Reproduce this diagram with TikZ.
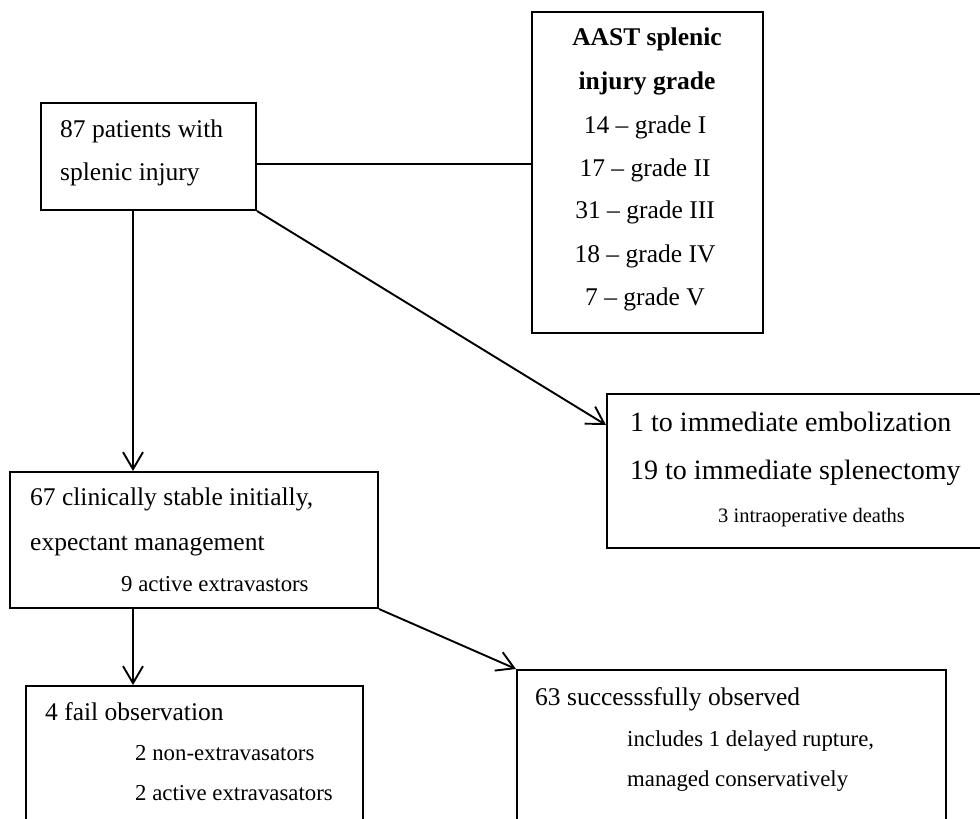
\documentclass[tikz,border=0pt]{standalone}
\usepackage{fontspec}
\setmainfont{Liberation Serif}
\usetikzlibrary{arrows.meta}
\begin{document}
\begin{tikzpicture}[x=1pt,y=-1pt,
  box/.style={draw, line width=2pt, rectangle, inner sep=0pt, minimum width=#1},
  conn/.style={line width=1.9pt},
  arr/.style={line width=1.9pt, -{Straight Barb[length=17pt,width=20pt,line width=1.9pt]}},
  txt/.style={inner sep=0pt, anchor=base west, font=\fontsize{25.5}{30}\selectfont},
  ctxt/.style={inner sep=0pt, anchor=base, font=\fontsize{25.5}{30}\selectfont},
  sub/.style={inner sep=0pt, anchor=base west, font=\fontsize{22.8}{27}\selectfont},
  lg/.style={inner sep=0pt, anchor=base west, font=\fontsize{28}{33}\selectfont},
  sm/.style={inner sep=0pt, anchor=base west, font=\fontsize{20.5}{24}\selectfont}]
\clip (0,0) rectangle (980,819);
\fill[white] (0,0) rectangle (980,819);
% boxes
\node[box=215pt, minimum height=107pt] (A) at (148.5,156.5) {};
\node[box=231pt, minimum height=321pt] (B) at (647.5,172.5) {};
\node[box=388pt, minimum height=154pt] (C) at (801,471) {};
\node[box=368pt, minimum height=136pt] (D) at (194,540) {};
\node[box=337pt, minimum height=154pt] (E) at (194.5,763) {};
\node[box=429pt, minimum height=170pt] (F) at (731.5,755) {};
% texts
\node[txt] (a1) at (60,137) {87 patients with};
\node[txt] (a2) at (60,180) {splenic injury};
\node[ctxt] (b1) at (647,45.5) {\bfseries AAST splenic};
\node[ctxt] (b2) at (647,89.5) {\bfseries injury grade};
\node[ctxt] (b3) at (645,133.5) {14 – grade I};
\node[ctxt] (b4) at (645,176.5) {17 – grade II};
\node[ctxt] (b5) at (645,218.5) {31 – grade III};
\node[ctxt] (b6) at (645,262.5) {18 – grade IV};
\node[ctxt] (b7) at (645,305.5) {7 – grade V};
\node[lg] (c1) at (630,431) {1 to immediate embolization};
\node[lg] (c2) at (630,479) {19 to immediate splenectomy};
\node[sm] (c3) at (718,522) {3 intraoperative deaths};
\node[txt] (d1) at (30,505.5) {67 clinically stable initially,};
\node[txt] (d2) at (30,550.5) {expectant management};
\node[sub] (d3) at (121,591.5) {9 active extravastors};
\node[txt] (e1) at (45,720.5) {4 fail observation};
\node[sub] (e2) at (135,760.5) {2 non-extravasators};
\node[sub] (e3) at (135,800.5) {2 active extravasators};
\node[txt] (f1) at (535,705.5) {63 successsfully observed};
\node[sub] (f2) at (627,746.5) {includes 1 delayed rupture,};
\node[sub] (f3) at (627,786.5) {managed conservatively};
% connectors
\draw[conn] ([yshift=-7.5pt]A.east) -- ([yshift=-7.5pt]A.east -| B.west);
\draw[arr] ([xshift=-15.5pt]A.south) -- ([xshift=-15.5pt]A.south |- D.north);
\draw[arr] (A.south east) -- ([yshift=46pt]C.west);
\draw[arr] ([xshift=-61pt]D.south) -- ([xshift=-61pt]D.south |- E.north);
\draw[arr] (D.south east) -- (F.north west);
\end{tikzpicture}
\end{document}
